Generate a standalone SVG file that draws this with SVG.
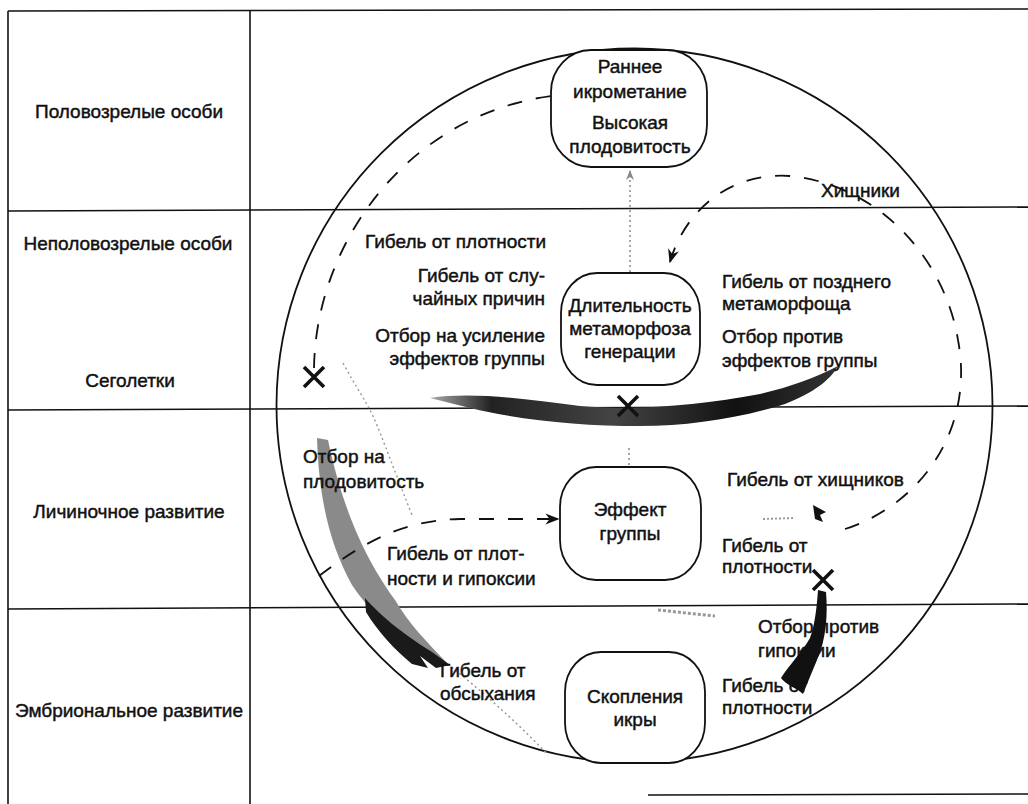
<svg xmlns="http://www.w3.org/2000/svg" width="1028" height="804" viewBox="0 0 1028 804">
<style>
.t{font-family:"Liberation Sans",Arial,sans-serif;font-size:19px;fill:#111;stroke:#111;stroke-width:0.45}
.m{text-anchor:middle}
.e{text-anchor:end}
.grid{stroke:#111;stroke-width:1.6;fill:none}
.node{fill:#fff;stroke:#111;stroke-width:1.8}
.dash{fill:none;stroke:#111;stroke-width:1.8;stroke-dasharray:15 14}
.dot{fill:none;stroke:#777;stroke-width:1.3;stroke-dasharray:2 3}
.x{stroke:#111;stroke-width:3.6;stroke-linecap:butt}
</style>
<defs>
<marker id="ah2" viewBox="0 0 10 10" refX="9" refY="5" markerWidth="14" markerHeight="14" orient="auto" markerUnits="userSpaceOnUse">
<path d="M0,1 L10,5 L0,9 L3,5 Z" fill="#111"/>
</marker>
<marker id="ahg" viewBox="0 0 10 10" refX="9" refY="5" markerWidth="10" markerHeight="10" orient="auto" markerUnits="userSpaceOnUse">
<path d="M0,1 L10,5 L0,9 L3,5 Z" fill="#888"/>
</marker>
<linearGradient id="smile" x1="0" y1="0" x2="1" y2="0">
<stop offset="0" stop-color="#aaa"/>
<stop offset="0.15" stop-color="#222"/>
<stop offset="0.45" stop-color="#444"/>
<stop offset="0.75" stop-color="#111"/>
<stop offset="1" stop-color="#333"/>
</linearGradient>
</defs>
<rect x="0" y="0" width="1028" height="804" fill="#fff"/>

<g id="grid">
<line class="grid" x1="8" y1="11" x2="1028" y2="9"/>
<line class="grid" x1="8" y1="11" x2="8" y2="804"/>
<line class="grid" x1="250" y1="11" x2="250" y2="804"/>
<line class="grid" x1="8" y1="211" x2="1028" y2="207"/>
<line class="grid" x1="8" y1="410" x2="1028" y2="406"/>
<line class="grid" x1="8" y1="609" x2="1028" y2="604"/>
<line class="grid" x1="648" y1="795" x2="1028" y2="794"/>
</g>

<g id="row-labels">
<text class="t m" x="129" y="118">Половозрелые особи</text>
<text class="t m" x="128" y="250">Неполовозрелые особи</text>
<text class="t m" x="130" y="387">Сеголетки</text>
<text class="t m" x="129" y="518">Личиночное развитие</text>
<text class="t m" x="129" y="717">Эмбриональное развитие</text>
</g>

<ellipse id="cycle" cx="634.5" cy="405.5" rx="358" ry="357" fill="none" stroke="#111" stroke-width="1.8"/>

<g id="shading">
<path d="M317,438 C319,500 330,545 352,585 C370,612 395,635 432,658 L448,664 C425,640 410,625 395,600 C370,565 345,520 328,440 Z" fill="#8a8a8a"/>
<path d="M365,598 C380,615 400,632 432,652 L450,665 L436,668 L420,656 L428,668 L412,664 C395,650 378,632 366,612 Z" fill="#1a1a1a"/>
<path d="M448,664 C480,690 515,720 548,755" fill="none" stroke="#999" stroke-width="1.5" stroke-dasharray="2 3"/>
<path d="M430,398 C470,392 520,398 580,406 C640,411 700,405 760,394 C790,387 815,378 838,366 C830,380 815,392 785,404 C740,418 690,426 640,426 C580,426 520,420 470,408 Z" fill="url(#smile)"/>
<path d="M818,590 L826,592 C828,615 826,640 817,660 C812,672 807,684 803,694 L798,690 C790,686 784,682 781,678 C790,664 802,652 810,638 C815,625 817,605 818,590 Z" fill="#111"/>
<path d="M343,363 C352,380 362,395 370,410 C378,425 390,460 412,515" fill="none" stroke="#999" stroke-width="1.4" stroke-dasharray="2 3"/>
<path d="M658,610 L715,616" stroke="#999" stroke-width="3" stroke-dasharray="3 2" fill="none"/>
<path d="M763,519 L795,518" stroke="#999" stroke-width="2" stroke-dasharray="2 2" fill="none"/>
<path d="M813,505 L826,512 L820,515 L823,522 L815,519 Z" fill="#111"/>
</g>

<g id="connectors">
<path class="dash" d="M314,368 C316,240 410,115 551,96"/>
<path class="dash" d="M845,529 C920,505 975,430 958,340 C945,260 880,185 790,176 C730,172 685,210 670,262" marker-end="url(#ah2)"/>
<path class="dash" d="M319,576 C360,545 400,520 460,519 L558,519" marker-end="url(#ah2)"/>
<path class="dot" d="M630,272 L630,171" marker-end="url(#ahg)"/>
<path class="dot" d="M629,448 L629,466"/>
</g>

<g id="node-spawning">
<rect class="node" x="551" y="50" width="156" height="117" rx="40" ry="42"/>
<text class="t m" x="630" y="73">Раннее</text>
<text class="t m" x="630" y="98">икрометание</text>
<text class="t m" x="630" y="129">Высокая</text>
<text class="t m" x="630" y="153">плодовитость</text>
</g>

<g id="node-metamorphosis">
<rect class="node" x="561" y="273" width="139" height="112" rx="36" ry="40"/>
<text class="t m" x="630" y="312">Длительность</text>
<text class="t m" x="630" y="335">метаморфоза</text>
<text class="t m" x="630" y="358">генерации</text>
</g>

<g id="node-group">
<rect class="node" x="560" y="467" width="141" height="113" rx="36" ry="40"/>
<text class="t m" x="630" y="516">Эффект</text>
<text class="t m" x="630" y="540">группы</text>
</g>

<g id="node-eggs">
<rect class="node" x="565" y="652" width="140" height="111" rx="36" ry="40"/>
<text class="t m" x="635" y="703">Скопления</text>
<text class="t m" x="635" y="726">икры</text>
</g>

<g id="labels">
<text class="t" x="365" y="248">Гибель от плотности</text>
<text class="t e" x="545" y="282">Гибель от слу-</text>
<text class="t e" x="545" y="305">чайных причин</text>
<text class="t e" x="545" y="342">Отбор на усиление</text>
<text class="t e" x="545" y="365">эффектов группы</text>
<text class="t" x="722" y="288">Гибель от позднего</text>
<text class="t" x="722" y="310">метаморфоща</text>
<text class="t" x="722" y="343">Отбор против</text>
<text class="t" x="722" y="367">эффектов группы</text>
<text class="t" x="821" y="197">Хищники</text>
<text class="t" x="303" y="463">Отбор на</text>
<text class="t" x="303" y="488">плодовитость</text>
<text class="t" x="387" y="560">Гибель от плот-</text>
<text class="t" x="387" y="585">ности и гипоксии</text>
<text class="t" x="727" y="486">Гибель от хищников</text>
<text class="t" x="722" y="552">Гибель от</text>
<text class="t" x="722" y="573">плотности</text>
<text class="t" x="440" y="677">Гибель от</text>
<text class="t" x="440" y="700">обсыхания</text>
<text class="t" x="758" y="633">Отбор против</text>
<text class="t" x="758" y="657">гипоксии</text>
<text class="t" x="722" y="692">Гибель от</text>
<text class="t" x="722" y="714">плотности</text>
</g>

<g id="blocks">
<path class="x" d="M304,367 L324,387 M324,367 L304,387"/>
<path class="x" d="M618,396 L638,416 M638,396 L618,416"/>
<path class="x" d="M813,570 L833,590 M833,570 L813,590"/>
</g>
</svg>
